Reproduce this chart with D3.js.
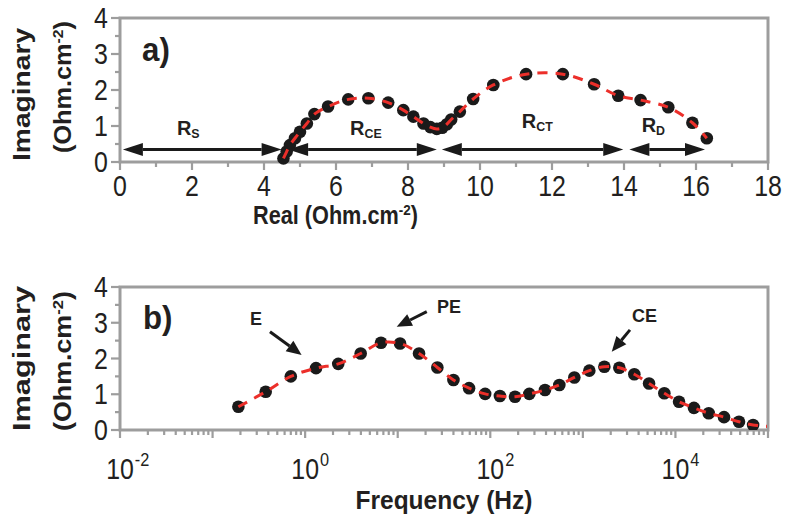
<!DOCTYPE html>
<html>
<head>
<meta charset="utf-8">
<script src="https://cdn.jsdelivr.net/npm/d3@7"></script>
<style>
  body { margin: 0; background: #fff; }
  svg { display: block; }
  text { font-family: "Liberation Sans", Arial, Helvetica, sans-serif; fill: #231f20; }
</style>
</head>
<body>
<svg id="chart" width="792" height="521"></svg>
<script>
// Nyquist plot (panel a): real vs. imaginary impedance, Ohm.cm-2
const nyquistReal = [4.54, 4.63, 4.72, 4.86, 5.00, 5.19, 5.40, 5.78, 6.34, 6.90, 7.45, 7.87,
  8.15, 8.43, 8.62, 8.80, 8.95, 9.08, 9.20, 9.44, 9.81, 10.37, 11.28, 12.30, 13.17, 13.84,
  14.46, 15.23, 15.90, 16.30];
const nyquistImag = [0.10, 0.29, 0.47, 0.66, 0.84, 1.07, 1.33, 1.54, 1.74, 1.77, 1.65, 1.44,
  1.26, 1.07, 0.97, 0.92, 0.95, 1.05, 1.18, 1.40, 1.75, 2.14, 2.44, 2.44, 2.16, 1.84,
  1.72, 1.52, 1.09, 0.66];

// Bode plot (panel b): frequency (Hz) vs. imaginary impedance
const bodeFreq = [0.19, 0.375, 0.70, 1.31, 2.28, 3.98, 6.6, 10.6, 17, 26.8, 40, 59, 88, 127,
  185, 264, 390, 557, 809, 1175, 1707, 2478, 3597, 5190, 7590, 10940, 15850, 22900, 33500,
  48600, 69000, 130000];
const bodeImag = [0.65, 1.07, 1.50, 1.73, 1.85, 2.14, 2.44, 2.42, 2.14, 1.75, 1.40, 1.17, 1.01,
  0.95, 0.93, 1.01, 1.12, 1.26, 1.47, 1.66, 1.77, 1.74, 1.56, 1.30, 1.03, 0.79, 0.62, 0.47,
  0.36, 0.23, 0.14, 0.08];

// Axis ticks
const realMajorTicks = [0, 2, 4, 6, 8, 10, 12, 14, 16, 18];
const realMinorTicks = [1, 3, 5, 7, 9, 11, 13, 15, 17];
const imagMajorTicks = [0, 1, 2, 3, 4];
const imagMinorTicks = [0.5, 1.5, 2.5, 3.5];
const freqDecades = [-2, -1, 0, 1, 2, 3, 4, 5];
const freqLabelExps = [-2, 0, 2, 4];

// Resistance spans along the real axis
const spanNames = ["S", "CE", "CT", "D"];
const spanFrom = [0.08, 4.67, 8.94, 14.15];
const spanTo = [4.49, 8.80, 13.98, 16.25];
const spanLevel = 0.35;

// Peak annotations in panel b
const peakNames = ["E", "PE", "CE"];

const svg = d3.select("#chart");
const L = 120, R = 768;
const frameColor = "#9d9d9d";
const redColor = "#ec2f2a";

const xA = d3.scaleLinear().domain([0, 18]).range([L, R]);
const yA = d3.scaleLinear().domain([0, 4]).range([162, 18]);
const xB = d3.scaleLog().domain([1e-2, 1e5]).range([L, R]);
const yB = d3.scaleLinear().domain([0, 4]).range([430, 287]);

// Text helper: parts = [{t, sup, sub}], placed at (x,y) with optional rotation/fit width
function label(parent, x, y, parts, o) {
  const g = parent.append("g").attr("transform", `translate(${x},${y}) rotate(${o.rotate || 0})`);
  const inner = g.append("g");
  const t = inner.append("text")
    .attr("font-size", o.size)
    .attr("font-weight", o.weight || "normal");
  parts.forEach(p => {
    const s = t.append("tspan").text(p.t);
    if (p.sup) s.attr("font-size", o.size * 0.62).attr("baseline-shift", "55%");
    if (p.sub) s.attr("font-size", o.size * 0.62).attr("baseline-shift", "-25%");
  });
  const bb = t.node().getBBox();
  const sx = o.width ? o.width / bb.width : (o.sx || 1);
  let off = bb.x;
  if (o.anchor === "middle") off = bb.x + bb.width / 2;
  else if (o.anchor === "end") off = bb.x + bb.width;
  inner.attr("transform", `scale(${sx},${o.sy || 1}) translate(${-off},0)`);
  return { g, w: bb.width * sx };
}

function head(g, x1, y1, x2, y2, len, hw) {
  const dx = x2 - x1, dy = y2 - y1, d = Math.hypot(dx, dy);
  const ux = dx / d, uy = dy / d, nx = -uy, ny = ux;
  const bx = x2 - ux * len, by = y2 - uy * len;
  g.append("path")
    .attr("d", `M${x2},${y2}L${bx + nx * hw},${by + ny * hw}L${bx - nx * hw},${by - ny * hw}Z`)
    .attr("fill", "#1a1a1a");
  return [bx, by];
}

function frame(y0, y1) {
  svg.append("rect").attr("x", L).attr("y", y1).attr("width", R - L).attr("height", y0 - y1)
    .attr("fill", "none").attr("stroke", frameColor).attr("stroke-width", 3);
}

function tickLines(ticks, pos, isX, base, len) {
  svg.append("g").selectAll("line").data(ticks).join("line")
    .attr("x1", d => isX ? pos(d) : base)
    .attr("x2", d => isX ? pos(d) : base - len)
    .attr("y1", d => isX ? base : pos(d))
    .attr("y2", d => isX ? base + len : pos(d))
    .attr("stroke", frameColor).attr("stroke-width", 2.2);
}

const tickFont = { size: 29, sx: 0.86 };

// ---------- Panel a ----------
frame(162, 18);
tickLines(realMajorTicks, xA, true, 162, 8);
tickLines(realMinorTicks, xA, true, 162, 5);
tickLines(imagMajorTicks, yA, false, L, 9);
tickLines(imagMinorTicks, yA, false, L, 5);

realMajorTicks.forEach(v => label(svg, xA(v), 196, [{ t: String(v) }], { ...tickFont, anchor: "middle" }));
imagMajorTicks.forEach(v => label(svg, 108, yA(v) + 10, [{ t: String(v) }], { ...tickFont, anchor: "end" }));

// ---------- Panel b ----------
frame(430, 287);
const logMinor = [];
freqDecades.slice(0, -1).forEach(e => { for (let m = 2; m <= 9; m++) logMinor.push(m * Math.pow(10, e)); });
tickLines(freqDecades.map(e => Math.pow(10, e)), xB, true, 430, 8);
tickLines(logMinor, xB, true, 430, 5);
tickLines(imagMajorTicks, yB, false, L, 9);
tickLines(imagMinorTicks, yB, false, L, 5);

freqLabelExps.forEach(e => {
  const x = xB(Math.pow(10, e));
  const lab = label(svg, x, 479, [{ t: "10" }], { ...tickFont, anchor: "middle" });
  label(svg, x + lab.w / 2 + 1, 466, [{ t: String(e) }], { size: 19, sx: 0.86 });
});
imagMajorTicks.forEach(v => label(svg, 108, yB(v) + 10, [{ t: String(v) }], { ...tickFont, anchor: "end" }));

// ---------- Axis titles ----------
const ohmParts = [{ t: "(Ohm.cm" }, { t: "-2", sup: true }, { t: ")" }];
label(svg, 253, 224, [{ t: "Real (Ohm.cm" }, { t: "-2", sup: true }, { t: ")" }], { size: 25, weight: "bold", width: 165 });
label(svg, 444, 509, [{ t: "Frequency (Hz)" }], { size: 25, weight: "bold", anchor: "middle", width: 177 });
label(svg, 30, 94, [{ t: "Imaginary" }], { size: 24, weight: "bold", anchor: "middle", rotate: -90, width: 134 });
label(svg, 71, 87, ohmParts, { size: 24, weight: "bold", anchor: "middle", rotate: -90, width: 132 });
label(svg, 30, 358, [{ t: "Imaginary" }], { size: 24, weight: "bold", anchor: "middle", rotate: -90, width: 146 });
label(svg, 71, 361, ohmParts, { size: 24, weight: "bold", anchor: "middle", rotate: -90, width: 140 });

label(svg, 142, 61, [{ t: "a)" }], { size: 34, weight: "bold", sx: 0.92 });
label(svg, 143, 329, [{ t: "b)" }], { size: 34, weight: "bold", sx: 0.92 });

// ---------- Panel a data ----------
const nyq = nyquistReal.map((v, i) => [v, nyquistImag[i]]);
svg.append("g").selectAll("circle").data(nyq).join("circle")
  .attr("cx", d => xA(d[0])).attr("cy", d => yA(d[1])).attr("r", 6.3).attr("fill", "#1a1a1a");
svg.append("path").datum(nyq)
  .attr("d", d3.line().x(d => xA(d[0])).y(d => yA(d[1])).curve(d3.curveCatmullRom))
  .attr("fill", "none").attr("stroke", redColor).attr("stroke-width", 3)
  .attr("stroke-dasharray", "10,8");

// Resistance span arrows
const ga = svg.append("g");
spanFrom.forEach((a, i) => {
  const x1 = xA(a), x2 = xA(spanTo[i]), y = yA(spanLevel);
  const [bx2] = head(ga, x1, y, x2, y, 20, 6.5);
  const [bx1] = head(ga, x2, y, x1, y, 20, 6.5);
  ga.append("line").attr("x1", bx1).attr("x2", bx2).attr("y1", y).attr("y2", y)
    .attr("stroke", "#1a1a1a").attr("stroke-width", 3);
});
const spanLabelX = [1.58, 6.39, 11.16, 14.49];
const spanLabelY = [0.75, 0.75, 0.94, 0.83];
spanNames.forEach((n, i) => {
  label(svg, xA(spanLabelX[i]), yA(spanLabelY[i]), [{ t: "R" }, { t: n, sub: true }],
    { size: 20, weight: "bold" });
});

// ---------- Panel b data ----------
svg.append("clipPath").attr("id", "clipB").append("rect")
  .attr("x", L).attr("y", 287).attr("width", R - L - 1).attr("height", 430 - 287);
const bode = bodeFreq.map((f, i) => [f, bodeImag[i]]);
const gb = svg.append("g").attr("clip-path", "url(#clipB)");
gb.selectAll("circle").data(bode).join("circle")
  .attr("cx", d => xB(d[0])).attr("cy", d => yB(d[1])).attr("r", 6.3).attr("fill", "#1a1a1a");
gb.append("path").datum(bode)
  .attr("d", d3.line().x(d => xB(d[0])).y(d => yB(d[1])).curve(d3.curveCatmullRom))
  .attr("fill", "none").attr("stroke", redColor).attr("stroke-width", 3)
  .attr("stroke-dasharray", "10,8");

// Peak annotations: label position and arrow (from -> to) in data units
const peakLabelF = [0.254, 26.6, 3396];
const peakLabelY = [2.94, 3.27, 3.02];
const arrowFromF = [0.417, 20.6, 3228];
const arrowFromY = [2.75, 3.31, 2.80];
const arrowToF = [0.916, 9.75, 2051];
const arrowToY = [2.10, 2.89, 2.19];
const gp = svg.append("g");
peakNames.forEach((n, i) => {
  label(svg, xB(peakLabelF[i]), yB(peakLabelY[i]), [{ t: n }], { size: 18, weight: "bold" });
  const x1 = xB(arrowFromF[i]), y1 = yB(arrowFromY[i]);
  const x2 = xB(arrowToF[i]), y2 = yB(arrowToY[i]);
  const [bx, by] = head(gp, x1, y1, x2, y2, 15, 6.5);
  gp.append("line").attr("x1", x1).attr("y1", y1).attr("x2", bx).attr("y2", by)
    .attr("stroke", "#1a1a1a").attr("stroke-width", 3);
});
</script>
</body>
</html>
